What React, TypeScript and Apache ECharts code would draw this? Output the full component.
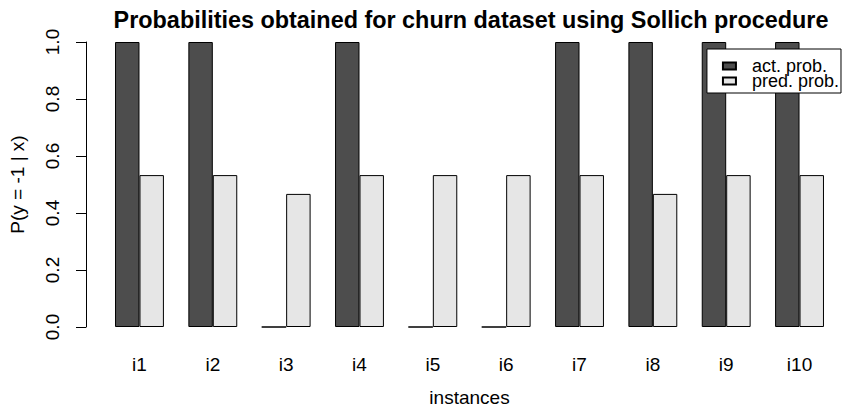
import React, { useEffect, useRef } from "react";
import * as echarts from "echarts";

const categories = ["i1", "i2", "i3", "i4", "i5", "i6", "i7", "i8", "i9", "i10"];
const actProb = [1, 1, 0, 1, 0, 0, 1, 1, 1, 1];
const predProb = [0.533, 0.533, 0.467, 0.533, 0.533, 0.533, 0.533, 0.467, 0.533, 0.533];
const yTicks = [0, 0.2, 0.4, 0.6, 0.8, 1.0];

const FONT = "'Liberation Sans', Arial, sans-serif";

export default function App() {
  const ref = useRef<HTMLDivElement>(null);
  useEffect(() => {
    if (!ref.current) return;
    const chart = echarts.init(ref.current, undefined, { renderer: "svg" });
    chart.setOption({
      animation: false,
      backgroundColor: "#ffffff",
      textStyle: { fontFamily: FONT },
      title: {
        text: "Probabilities obtained for churn dataset using Sollich procedure",
        left: 466,
        textAlign: "center",
        top: 3,
        textStyle: { fontFamily: FONT, fontSize: 23.4, fontWeight: "bold", color: "#000" },
      },
      legend: {
        orient: "vertical",
        right: 1,
        top: 49,
        padding: [8, 2, 3, 15],
        itemGap: -3,
        itemWidth: 13,
        itemHeight: 7,
        icon: "rect",
        backgroundColor: "#ffffff",
        borderColor: "#000",
        borderWidth: 1,
        borderRadius: 0,
        textStyle: { fontFamily: FONT, fontSize: 18, color: "#000", lineHeight: 14, padding: [0, 0, 0, 11] },
        data: ["act. prob.", "pred. prob."],
      },
      grid: { left: 102.8, right: 5.8, top: 42, bottom: 81, outerBoundsMode: "none", containLabel: false },
      xAxis: {
        type: "category",
        data: categories,
        name: "instances",
        nameLocation: "middle",
        nameGap: 61,
        nameTextStyle: { fontFamily: FONT, fontSize: 19, color: "#000" },
        axisLine: { show: false },
        axisTick: { show: false },
        axisLabel: { fontFamily: FONT, fontSize: 19, color: "#000", margin: 28 },
      },
      yAxis: {
        type: "value",
        min: 0,
        max: 1,
        interval: 0.2,
        offset: 16.8,
        name: "P(y = -1 | x)",
        nameLocation: "middle",
        nameGap: 59,
        nameTextStyle: { fontFamily: FONT, fontSize: 19, color: "#000" },
        axisLine: { show: true, lineStyle: { color: "#000", width: 1 } },
        axisTick: { show: true, length: 10, lineStyle: { color: "#000" } },
        splitLine: { show: false },
        axisLabel: {
          rotate: 90,
          fontFamily: FONT,
          fontSize: 19,
          color: "#000",
          margin: 24,
          formatter: (v: number) => (yTicks.some((t) => Math.abs(t - v) < 1e-9) ? v.toFixed(1) : ""),
        },
      },
      series: [
        {
          name: "act. prob.",
          type: "bar",
          data: actProb,
          barGap: "0%",
          barCategoryGap: "33.333%",
          itemStyle: { color: "#4D4D4D", borderColor: "#000", borderWidth: 1 },
        },
        {
          name: "pred. prob.",
          type: "bar",
          data: predProb,
          barGap: "0%",
          barCategoryGap: "33.333%",
          itemStyle: { color: "#E6E6E6", borderColor: "#000", borderWidth: 1 },
        },
      ],
    });
    return () => chart.dispose();
  }, []);
  return (
    <div
      ref={ref}
      style={{ position: "absolute", left: 0, top: 0, width: 842, height: 408 }}
    />
  );
}
